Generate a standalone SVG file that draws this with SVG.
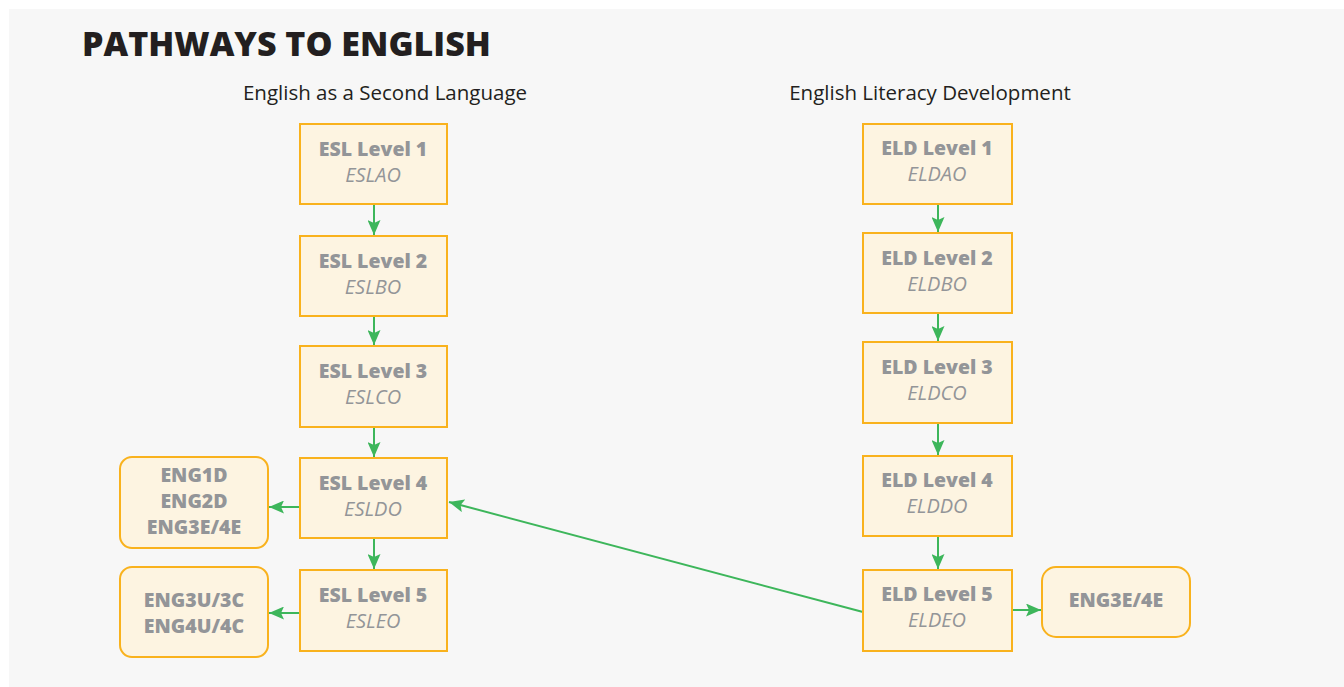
<svg xmlns="http://www.w3.org/2000/svg" width="1344" height="687" viewBox="0 0 1344 687">
  <style>
    .title { font-family: "Open Sans", "Liberation Sans", sans-serif; font-weight: 800; font-size: 34px; fill: #231f20; }
    .sub { font-family: "Open Sans", "Liberation Sans", sans-serif; font-size: 20.5px; fill: #231f20; text-anchor: middle; }
    .box { fill: #fdf4e1; stroke: #f9b21d; stroke-width: 2; }
    .lvl { font-family: "Open Sans", "Liberation Sans", sans-serif; font-weight: 800; font-size: 19.5px; fill: #939598; text-anchor: middle; }
    .code { font-family: "Open Sans", "Liberation Sans", sans-serif; font-style: italic; font-size: 20px; fill: #939598; text-anchor: middle; }
    .link { stroke: #3db65b; stroke-width: 2; fill: none; marker-end: url(#arrow); }
  </style>
  <defs>
    <marker id="arrow" markerWidth="15" markerHeight="13" refX="15" refY="6.5" orient="auto" markerUnits="userSpaceOnUse">
      <path d="M0,0 L15,6.5 L0,13 L3,6.5 Z" fill="#3db65b"/>
    </marker>
  </defs>

  <rect x="0" y="0" width="1344" height="687" fill="#ffffff"/>
  <rect x="9" y="9" width="1335" height="678" fill="#f7f7f7"/>

  <text class="title" x="82" y="56">PATHWAYS TO ENGLISH</text>
  <text class="sub" x="385" y="100">English as a Second Language</text>
  <text class="sub" x="930" y="100">English Literacy Development</text>

  <!-- connectors -->
  <g id="connectors">
    <line class="link" x1="374" y1="205" x2="374" y2="235"/>
    <line class="link" x1="374" y1="317" x2="374" y2="345"/>
    <line class="link" x1="374" y1="428" x2="374" y2="457"/>
    <line class="link" x1="374" y1="539" x2="374" y2="569"/>
    <line class="link" x1="299" y1="507" x2="269" y2="507"/>
    <line class="link" x1="299" y1="613" x2="269" y2="613"/>
    <line class="link" x1="938" y1="205" x2="938" y2="232"/>
    <line class="link" x1="938" y1="314" x2="938" y2="341"/>
    <line class="link" x1="938" y1="424" x2="938" y2="455"/>
    <line class="link" x1="938" y1="537" x2="938" y2="569"/>
    <line class="link" x1="1013" y1="610" x2="1041" y2="610"/>
    <line class="link" x1="863" y1="612" x2="449" y2="502"/>
  </g>

  <!-- ESL column -->
  <g id="esl1"><rect class="box" x="300" y="124" width="147" height="80"/><text class="lvl" x="373" y="156">ESL Level 1</text><text class="code" x="373" y="182">ESLAO</text></g>
  <g id="esl2"><rect class="box" x="300" y="236" width="147" height="80"/><text class="lvl" x="373" y="268">ESL Level 2</text><text class="code" x="373" y="294">ESLBO</text></g>
  <g id="esl3"><rect class="box" x="300" y="346" width="147" height="81"/><text class="lvl" x="373" y="378">ESL Level 3</text><text class="code" x="373" y="404">ESLCO</text></g>
  <g id="esl4"><rect class="box" x="300" y="458" width="147" height="80"/><text class="lvl" x="373" y="490">ESL Level 4</text><text class="code" x="373" y="516">ESLDO</text></g>
  <g id="esl5"><rect class="box" x="300" y="570" width="147" height="81"/><text class="lvl" x="373" y="602">ESL Level 5</text><text class="code" x="373" y="628">ESLEO</text></g>

  <!-- ESL exits -->
  <g id="eng-d"><rect class="box" x="120" y="457" width="148" height="91" rx="12"/><text class="lvl" x="194" y="482">ENG1D</text><text class="lvl" x="194" y="508">ENG2D</text><text class="lvl" x="194" y="534">ENG3E/4E</text></g>
  <g id="eng-uc"><rect class="box" x="120" y="567" width="148" height="90" rx="12"/><text class="lvl" x="194" y="607">ENG3U/3C</text><text class="lvl" x="194" y="633">ENG4U/4C</text></g>

  <!-- ELD column -->
  <g id="eld1"><rect class="box" x="863" y="124" width="149" height="80"/><text class="lvl" x="937" y="155">ELD Level 1</text><text class="code" x="937" y="181">ELDAO</text></g>
  <g id="eld2"><rect class="box" x="863" y="233" width="149" height="80"/><text class="lvl" x="937" y="265">ELD Level 2</text><text class="code" x="937" y="291">ELDBO</text></g>
  <g id="eld3"><rect class="box" x="863" y="342" width="149" height="81"/><text class="lvl" x="937" y="374">ELD Level 3</text><text class="code" x="937" y="400">ELDCO</text></g>
  <g id="eld4"><rect class="box" x="863" y="456" width="149" height="80"/><text class="lvl" x="937" y="487">ELD Level 4</text><text class="code" x="937" y="513">ELDDO</text></g>
  <g id="eld5"><rect class="box" x="863" y="570" width="149" height="81"/><text class="lvl" x="937" y="601">ELD Level 5</text><text class="code" x="937" y="627">ELDEO</text></g>

  <!-- ELD exit -->
  <g id="eng-e"><rect class="box" x="1042" y="567" width="148" height="70" rx="14"/><text class="lvl" x="1116" y="607">ENG3E/4E</text></g>
</svg>
